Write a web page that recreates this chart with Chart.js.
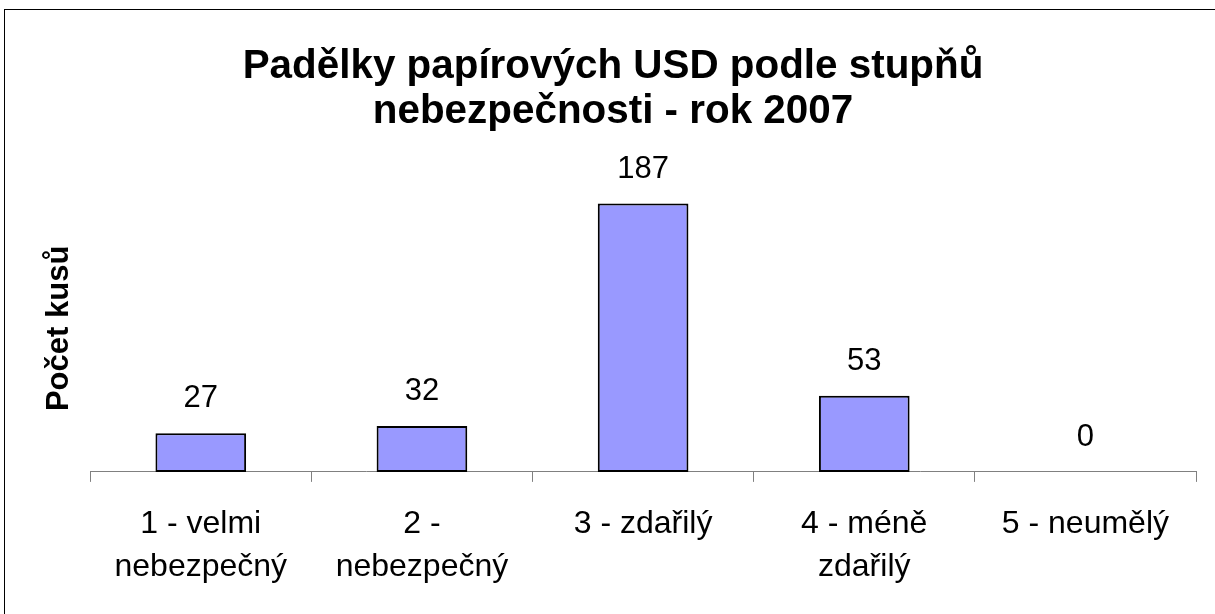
<!DOCTYPE html>
<html>
<head>
<meta charset="utf-8">
<script src="https://cdn.jsdelivr.net/npm/chart.js@4"></script>
<style>
  html, body { margin: 0; padding: 0; background: #fff; overflow: hidden; }
  #wrap { position: relative; width: 1215px; height: 614px; }
  #c { position: absolute; left: 0; top: 0; }
  #frame { position: absolute; left: 4px; top: 9px; width: 1300px; height: 700px; border: 1px solid #000; pointer-events: none; }
</style>
</head>
<body>
<div id="wrap">
  <div id="frame"></div>
  <canvas id="c" width="1215" height="614"></canvas>
</div>
<script>
const titleLines = ['Padělky papírových USD podle stupňů', 'nebezpečnosti - rok 2007'];
const yAxisTitle = 'Počet kusů';
const categories = [
  ['1 - velmi', 'nebezpečný'],
  ['2 -', 'nebezpečný'],
  '3 - zdařilý',
  ['4 - méně', 'zdařilý'],
  '5 - neumělý'
];
const counts = [27, 32, 187, 53, 0];
const yMin = 0;
const yMax = 200;

const FONT = '"Liberation Sans", Arial, sans-serif';

const valueLabels = {
  id: 'valueLabels',
  afterDatasetsDraw(chart) {
    const ctx = chart.ctx;
    const meta = chart.getDatasetMeta(0);
    ctx.save();
    ctx.font = '31px ' + FONT;
    ctx.fillStyle = '#000';
    ctx.textAlign = 'center';
    ctx.textBaseline = 'alphabetic';
    meta.data.forEach((bar, i) => {
      const p = bar.getProps(['x', 'y'], true);
      ctx.fillText(String(chart.data.datasets[0].data[i]), p.x, p.y - 26);
    });
    ctx.restore();
  }
};

new Chart(document.getElementById('c'), {
  type: 'bar',
  data: {
    labels: categories,
    datasets: [{
      data: counts,
      backgroundColor: '#9999FF',
      borderColor: '#000000',
      borderWidth: 2,
      borderSkipped: false,
      barPercentage: 0.41,
      categoryPercentage: 1.0
    }]
  },
  options: {
    responsive: false,
    animation: false,
    layout: { padding: { left: 30, right: 19, top: 0, bottom: 5 } },
    plugins: {
      legend: { display: false },
      tooltip: { enabled: false },
      title: {
        display: true,
        text: titleLines,
        color: '#000',
        font: { family: FONT, size: 40.4, weight: 'bold', lineHeight: 1.1 },
        padding: { top: 45, bottom: 51 }
      }
    },
    scales: {
      x: {
        offset: true,
        grid: {
          display: true,
          offset: true,
          drawOnChartArea: false,
          drawTicks: true,
          tickLength: 10,
          color: '#808080',
          lineWidth: 1
        },
        border: { display: true, color: '#808080', width: 1 },
        ticks: {
          color: '#000',
          padding: 21,
          maxRotation: 0,
          autoSkip: false,
          font: { family: FONT, size: 32, lineHeight: 1.33 }
        }
      },
      y: {
        min: yMin,
        max: yMax,
        grid: { display: false, drawTicks: false },
        border: { display: false },
        ticks: { display: false },
        title: {
          display: true,
          text: yAxisTitle,
          color: '#000',
          font: { family: FONT, size: 31, weight: 'bold', lineHeight: 1.2 },
          padding: { top: 11, bottom: 12 }
        }
      }
    }
  },
  plugins: [valueLabels]
});
</script>
</body>
</html>
